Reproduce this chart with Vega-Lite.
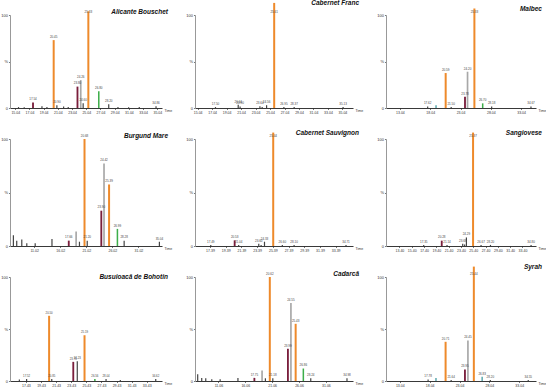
{
  "$schema": "https://vega.github.io/schema/vega-lite/v6.json",
  "padding": 0,
  "background": "white",
  "bounds": "flush",
  "columns": 3,
  "spacing": {"row": 31, "column": 33},
  "config": {
    "view": {"stroke": null},
    "font": "Liberation Sans",
    "axis": {"grid": false, "labelFont": "Liberation Sans", "labelColor": "#333", "tickColor": "#777", "tickSize": 1.5, "labelPadding": 1, "labelOverlap": false, "labelFlush": false},
    "axisX": {"labelFontSize": 3.5, "domainColor": "#222", "domainWidth": 0.9, "titleFont": "Liberation Sans", "titleFontSize": 3.5, "titleFontWeight": "normal", "titleAlign": "left", "titleBaseline": "middle", "titleY": 2, "titleColor": "#333"},
    "axisY": {"labelFontSize": 4, "domainColor": "#999", "title": null},
    "title": {"anchor": "end", "frame": "group", "fontSize": 6.5, "font": "Liberation Sans", "fontStyle": "italic", "fontWeight": "bold", "offset": -5, "dx": 6, "color": "#111"}
  },
  "datasets": {
    "peaks": [
      {"p": "AB", "t": 15.5, "h": 1, "c": "K", "lab": ""},
      {"p": "AB", "t": 16.3, "h": 0.8, "c": "K", "lab": ""},
      {"p": "AB", "t": 17.54, "h": 6, "c": "M", "lab": "17.54"},
      {"p": "AB", "t": 18.8, "h": 2, "c": "K", "lab": ""},
      {"p": "AB", "t": 19.5, "h": 1, "c": "K", "lab": ""},
      {"p": "AB", "t": 20.45, "h": 73, "c": "O", "lab": "20.45"},
      {"p": "AB", "t": 20.9, "h": 3, "c": "K", "lab": "20.90"},
      {"p": "AB", "t": 21.85, "h": 1.5, "c": "K", "lab": ""},
      {"p": "AB", "t": 22.5, "h": 1, "c": "K", "lab": ""},
      {"p": "AB", "t": 23.8, "h": 23, "c": "M", "lab": "23.80"},
      {"p": "AB", "t": 24.26, "h": 30, "c": "G", "lab": "24.26"},
      {"p": "AB", "t": 24.6, "h": 5, "c": "K", "lab": "24.60"},
      {"p": "AB", "t": 25.33, "h": 104, "c": "O", "lab": "25.33"},
      {"p": "AB", "t": 26.8, "h": 18, "c": "N", "lab": "26.80"},
      {"p": "AB", "t": 28.2, "h": 4, "c": "K", "lab": "28.20"},
      {"p": "AB", "t": 29.5, "h": 1, "c": "K", "lab": ""},
      {"p": "AB", "t": 31.0, "h": 0.8, "c": "K", "lab": ""},
      {"p": "AB", "t": 32.5, "h": 1, "c": "K", "lab": ""},
      {"p": "AB", "t": 34.86, "h": 2, "c": "K", "lab": "34.86"},

      {"p": "CF", "t": 17.5, "h": 1, "c": "K", "lab": "17.50"},
      {"p": "CF", "t": 20.64, "h": 3.5, "c": "K", "lab": "20.64"},
      {"p": "CF", "t": 20.9, "h": 1.5, "c": "K", "lab": "20.90"},
      {"p": "CF", "t": 23.64, "h": 2, "c": "K", "lab": "23.64"},
      {"p": "CF", "t": 23.95, "h": 1, "c": "K", "lab": ""},
      {"p": "CF", "t": 24.56, "h": 3, "c": "K", "lab": "24.56"},
      {"p": "CF", "t": 25.61, "h": 113, "c": "O", "lab": "25.61"},
      {"p": "CF", "t": 26.95, "h": 1, "c": "K", "lab": "26.95"},
      {"p": "CF", "t": 28.37, "h": 1, "c": "K", "lab": "28.37"},
      {"p": "CF", "t": 35.13, "h": 1, "c": "K", "lab": "35.13"},

      {"p": "M", "t": 17.62, "h": 1.5, "c": "K", "lab": "17.62"},
      {"p": "M", "t": 19.0, "h": 3, "c": "T", "lab": ""},
      {"p": "M", "t": 20.59, "h": 37.6, "c": "O", "lab": "20.59"},
      {"p": "M", "t": 21.5, "h": 1, "c": "K", "lab": "21.50"},
      {"p": "M", "t": 23.78, "h": 12, "c": "M", "lab": "23.78"},
      {"p": "M", "t": 24.2, "h": 39, "c": "G", "lab": "24.20"},
      {"p": "M", "t": 25.33, "h": 107, "c": "O", "lab": "25.33"},
      {"p": "M", "t": 26.7, "h": 5, "c": "N", "lab": "26.70"},
      {"p": "M", "t": 28.18, "h": 1.5, "c": "K", "lab": "28.18"},
      {"p": "M", "t": 34.67, "h": 1.5, "c": "K", "lab": "34.67"},

      {"p": "BM", "t": 7.04, "h": 10, "c": "K", "lab": ""},
      {"p": "BM", "t": 7.68, "h": 5, "c": "K", "lab": ""},
      {"p": "BM", "t": 8.65, "h": 6, "c": "K", "lab": ""},
      {"p": "BM", "t": 9.61, "h": 2.5, "c": "K", "lab": ""},
      {"p": "BM", "t": 11.22, "h": 2.5, "c": "K", "lab": ""},
      {"p": "BM", "t": 14.44, "h": 6.6, "c": "K", "lab": ""},
      {"p": "BM", "t": 17.66, "h": 5, "c": "M", "lab": "17.66"},
      {"p": "BM", "t": 19.07, "h": 13.5, "c": "G", "lab": ""},
      {"p": "BM", "t": 19.71, "h": 4, "c": "K", "lab": ""},
      {"p": "BM", "t": 20.68, "h": 100, "c": "O", "lab": "20.68"},
      {"p": "BM", "t": 21.2, "h": 5, "c": "K", "lab": "21.20"},
      {"p": "BM", "t": 23.9, "h": 33, "c": "M", "lab": "23.90"},
      {"p": "BM", "t": 24.42, "h": 77, "c": "G", "lab": "24.42"},
      {"p": "BM", "t": 25.39, "h": 57.5, "c": "O", "lab": "25.39"},
      {"p": "BM", "t": 26.99, "h": 16, "c": "N", "lab": "26.99"},
      {"p": "BM", "t": 28.28, "h": 5, "c": "K", "lab": "28.28"},
      {"p": "BM", "t": 35.04, "h": 4, "c": "K", "lab": "35.04"},

      {"p": "CS", "t": 17.49, "h": 1, "c": "K", "lab": "17.49"},
      {"p": "CS", "t": 20.53, "h": 5.3, "c": "M", "lab": "20.53"},
      {"p": "CS", "t": 21.04, "h": 1, "c": "K", "lab": "21.04"},
      {"p": "CS", "t": 23.6, "h": 2, "c": "K", "lab": "23.60"},
      {"p": "CS", "t": 23.9, "h": 1, "c": "K", "lab": ""},
      {"p": "CS", "t": 24.33, "h": 4, "c": "K", "lab": "24.33"},
      {"p": "CS", "t": 25.44, "h": 106, "c": "O", "lab": "25.44"},
      {"p": "CS", "t": 26.6, "h": 1, "c": "K", "lab": "26.60"},
      {"p": "CS", "t": 28.1, "h": 1, "c": "K", "lab": "28.10"},
      {"p": "CS", "t": 34.71, "h": 1, "c": "K", "lab": "34.71"},

      {"p": "S", "t": 17.35, "h": 1, "c": "K", "lab": "17.35"},
      {"p": "S", "t": 20.28, "h": 5, "c": "M", "lab": "20.28"},
      {"p": "S", "t": 21.14, "h": 1, "c": "K", "lab": "21.14"},
      {"p": "S", "t": 23.69, "h": 2, "c": "K", "lab": "23.69"},
      {"p": "S", "t": 24.0, "h": 1.5, "c": "K", "lab": ""},
      {"p": "S", "t": 24.29, "h": 8, "c": "K", "lab": "24.29"},
      {"p": "S", "t": 25.37, "h": 106, "c": "O", "lab": "25.37"},
      {"p": "S", "t": 26.67, "h": 1, "c": "K", "lab": "26.67"},
      {"p": "S", "t": 28.2, "h": 1, "c": "K", "lab": "28.20"},
      {"p": "S", "t": 34.8, "h": 1, "c": "K", "lab": "34.80"},

      {"p": "BB", "t": 16.56, "h": 1.5, "c": "K", "lab": ""},
      {"p": "BB", "t": 17.52, "h": 2, "c": "K", "lab": "17.52"},
      {"p": "BB", "t": 20.5, "h": 62.7, "c": "O", "lab": "20.50"},
      {"p": "BB", "t": 20.85, "h": 2, "c": "K", "lab": "20.85"},
      {"p": "BB", "t": 23.7, "h": 18.4, "c": "M", "lab": "23.70"},
      {"p": "BB", "t": 24.23, "h": 19, "c": "K", "lab": "24.23"},
      {"p": "BB", "t": 25.19, "h": 44, "c": "O", "lab": "25.19"},
      {"p": "BB", "t": 26.56, "h": 2, "c": "N", "lab": "26.56"},
      {"p": "BB", "t": 28.04, "h": 2, "c": "K", "lab": "28.04"},
      {"p": "BB", "t": 29.93, "h": 1, "c": "K", "lab": ""},
      {"p": "BB", "t": 34.62, "h": 2, "c": "K", "lab": "34.62"},

      {"p": "C", "t": 7.2, "h": 6.5, "c": "K", "lab": ""},
      {"p": "C", "t": 7.95, "h": 3, "c": "K", "lab": ""},
      {"p": "C", "t": 8.7, "h": 2.6, "c": "K", "lab": ""},
      {"p": "C", "t": 9.82, "h": 1.6, "c": "K", "lab": ""},
      {"p": "C", "t": 11.38, "h": 1.6, "c": "K", "lab": ""},
      {"p": "C", "t": 14.69, "h": 3, "c": "K", "lab": ""},
      {"p": "C", "t": 17.75, "h": 3, "c": "M", "lab": "17.75"},
      {"p": "C", "t": 19.18, "h": 10, "c": "G", "lab": ""},
      {"p": "C", "t": 19.8, "h": 2.6, "c": "K", "lab": ""},
      {"p": "C", "t": 20.62, "h": 100, "c": "O", "lab": "20.62"},
      {"p": "C", "t": 21.18, "h": 2.6, "c": "K", "lab": "21.18"},
      {"p": "C", "t": 23.99, "h": 31, "c": "M", "lab": "23.99"},
      {"p": "C", "t": 24.55, "h": 75, "c": "G", "lab": "24.55"},
      {"p": "C", "t": 25.43, "h": 55, "c": "O", "lab": "25.43"},
      {"p": "C", "t": 26.86, "h": 12, "c": "N", "lab": "26.86"},
      {"p": "C", "t": 28.24, "h": 2.6, "c": "K", "lab": "28.24"},
      {"p": "C", "t": 34.98, "h": 2.6, "c": "K", "lab": "34.98"},

      {"p": "SY", "t": 17.78, "h": 1.5, "c": "K", "lab": "17.78"},
      {"p": "SY", "t": 19.1, "h": 3, "c": "T", "lab": ""},
      {"p": "SY", "t": 20.71, "h": 37.7, "c": "O", "lab": "20.71"},
      {"p": "SY", "t": 21.64, "h": 1, "c": "K", "lab": "21.64"},
      {"p": "SY", "t": 23.95, "h": 11, "c": "M", "lab": "23.95"},
      {"p": "SY", "t": 24.45, "h": 39, "c": "G", "lab": "24.45"},
      {"p": "SY", "t": 25.44, "h": 110, "c": "O", "lab": "25.44"},
      {"p": "SY", "t": 26.83, "h": 4, "c": "T", "lab": "26.83"},
      {"p": "SY", "t": 28.2, "h": 1, "c": "K", "lab": "28.20"},
      {"p": "SY", "t": 34.55, "h": 1, "c": "K", "lab": "34.55"}
    ]
  },
  "concat": [
    {
      "width": 152, "height": 93,
      "title": {"text": "Alicante Bouschet"},
      "data": {"name": "peaks"},
      "transform": [{"filter": "datum.p === 'AB'"}],
      "encoding": {"x": {"field": "t", "type": "quantitative", "scale": {"domain": [14.3, 35.7], "nice": false, "zero": false}, "axis": {"values": [15.04, 17.04, 19.04, 21.04, 23.04, 25.04, 27.04, 29.04, 31.04, 33.04, 35.04], "format": ".2f", "title": "Time", "titleX": 154}}},
      "layer": [
        {"mark": "rule", "encoding": {
          "y": {"field": "h", "type": "quantitative", "scale": {"domain": [0, 100], "nice": false}, "axis": {"values": [0, 50, 100], "labelExpr": "datum.value == 50 ? '%' : datum.label"}},
          "y2": {"datum": 0},
          "color": {"field": "c", "type": "nominal", "scale": {"domain": ["O", "M", "G", "N", "T", "K"], "range": ["#EE8A2B", "#7A1E3C", "#A8A8A8", "#3DAE49", "#4A9FA5", "#444444"]}, "legend": null},
          "strokeWidth": {"field": "c", "type": "nominal", "scale": {"domain": ["O", "M", "G", "N", "T", "K"], "range": [2, 1.2, 1.2, 1.2, 1, 0.8]}, "legend": null}
        }},
        {"mark": {"type": "text", "fontSize": 3, "dy": -1.5, "baseline": "bottom", "color": "#444"}, "encoding": {
          "y": {"field": "h", "type": "quantitative", "scale": {"domain": [0, 100], "clamp": true, "nice": false}, "axis": null},
          "text": {"field": "lab"}
        }}
      ],
      "resolve": {"scale": {"y": "independent"}}
    },
    {
      "width": 158, "height": 93,
      "title": {"text": "Cabernet Franc"},
      "data": {"name": "peaks"},
      "transform": [{"filter": "datum.p === 'CF'"}],
      "encoding": {"x": {"field": "t", "type": "quantitative", "scale": {"domain": [14.67, 36.5], "nice": false, "zero": false}, "axis": {"values": [15.04, 17.04, 19.04, 21.04, 23.04, 25.04, 27.04, 29.04, 31.04, 33.04, 35.04], "format": ".2f", "title": "Time", "titleX": 160}}},
      "layer": [
        {"mark": "rule", "encoding": {
          "y": {"field": "h", "type": "quantitative", "scale": {"domain": [0, 100], "nice": false}, "axis": {"values": [0, 50, 100], "labelExpr": "datum.value == 50 ? '%' : datum.label"}},
          "y2": {"datum": 0},
          "color": {"field": "c", "type": "nominal", "scale": {"domain": ["O", "M", "G", "N", "T", "K"], "range": ["#EE8A2B", "#7A1E3C", "#A8A8A8", "#3DAE49", "#4A9FA5", "#444444"]}, "legend": null},
          "strokeWidth": {"field": "c", "type": "nominal", "scale": {"domain": ["O", "M", "G", "N", "T", "K"], "range": [2, 1.2, 1.2, 1.2, 1, 0.8]}, "legend": null}
        }},
        {"mark": {"type": "text", "fontSize": 3, "dy": -1.5, "baseline": "bottom", "color": "#444"}, "encoding": {
          "y": {"field": "h", "type": "quantitative", "scale": {"domain": [0, 100], "clamp": true, "nice": false}, "axis": null},
          "text": {"field": "lab"}
        }}
      ],
      "resolve": {"scale": {"y": "independent"}}
    },
    {
      "width": 150, "height": 93,
      "title": {"text": "Malbec"},
      "data": {"name": "peaks"},
      "transform": [{"filter": "datum.p === 'M'"}],
      "encoding": {"x": {"field": "t", "type": "quantitative", "scale": {"domain": [10.74, 35.5], "nice": false, "zero": false}, "axis": {"values": [13.04, 18.04, 23.04, 28.04, 33.04], "format": ".2f", "title": "Time", "titleX": 152}}},
      "layer": [
        {"mark": "rule", "encoding": {
          "y": {"field": "h", "type": "quantitative", "scale": {"domain": [0, 100], "nice": false}, "axis": {"values": [0, 50, 100], "labelExpr": "datum.value == 50 ? '%' : datum.label"}},
          "y2": {"datum": 0},
          "color": {"field": "c", "type": "nominal", "scale": {"domain": ["O", "M", "G", "N", "T", "K"], "range": ["#EE8A2B", "#7A1E3C", "#A8A8A8", "#3DAE49", "#4A9FA5", "#444444"]}, "legend": null},
          "strokeWidth": {"field": "c", "type": "nominal", "scale": {"domain": ["O", "M", "G", "N", "T", "K"], "range": [2, 1.2, 1.2, 1.2, 1, 0.8]}, "legend": null}
        }},
        {"mark": {"type": "text", "fontSize": 3, "dy": -1.5, "baseline": "bottom", "color": "#444"}, "encoding": {
          "y": {"field": "h", "type": "quantitative", "scale": {"domain": [0, 100], "clamp": true, "nice": false}, "axis": null},
          "text": {"field": "lab"}
        }}
      ],
      "resolve": {"scale": {"y": "independent"}}
    },
    {
      "width": 152, "height": 107,
      "title": {"text": "Burgund Mare"},
      "data": {"name": "peaks"},
      "transform": [{"filter": "datum.p === 'BM'"}],
      "encoding": {"x": {"field": "t", "type": "quantitative", "scale": {"domain": [6.39, 35.54], "nice": false, "zero": false}, "axis": {"values": [11.02, 16.02, 21.02, 26.02, 31.02], "format": ".2f", "title": "Time", "titleX": 154}}},
      "layer": [
        {"mark": "rule", "encoding": {
          "y": {"field": "h", "type": "quantitative", "scale": {"domain": [0, 100], "nice": false}, "axis": {"values": [0, 50, 100], "labelExpr": "datum.value == 50 ? '%' : datum.label"}},
          "y2": {"datum": 0},
          "color": {"field": "c", "type": "nominal", "scale": {"domain": ["O", "M", "G", "N", "T", "K"], "range": ["#EE8A2B", "#7A1E3C", "#A8A8A8", "#3DAE49", "#4A9FA5", "#444444"]}, "legend": null},
          "strokeWidth": {"field": "c", "type": "nominal", "scale": {"domain": ["O", "M", "G", "N", "T", "K"], "range": [2, 1.2, 1.2, 1.2, 1, 0.8]}, "legend": null}
        }},
        {"mark": {"type": "text", "fontSize": 3, "dy": -1.5, "baseline": "bottom", "color": "#444"}, "encoding": {
          "y": {"field": "h", "type": "quantitative", "scale": {"domain": [0, 100], "clamp": true, "nice": false}, "axis": null},
          "text": {"field": "lab"}
        }}
      ],
      "resolve": {"scale": {"y": "independent"}}
    },
    {
      "width": 158, "height": 107,
      "title": {"text": "Cabernet Sauvignon"},
      "data": {"name": "peaks"},
      "transform": [{"filter": "datum.p === 'CS'"}],
      "encoding": {"x": {"field": "t", "type": "quantitative", "scale": {"domain": [15.48, 35.6], "nice": false, "zero": false}, "axis": {"values": [17.39, 19.39, 21.39, 23.39, 25.39, 27.39, 29.39, 31.39, 33.39], "format": ".2f", "title": "Time", "titleX": 160}}},
      "layer": [
        {"mark": "rule", "encoding": {
          "y": {"field": "h", "type": "quantitative", "scale": {"domain": [0, 100], "nice": false}, "axis": {"values": [0, 50, 100], "labelExpr": "datum.value == 50 ? '%' : datum.label"}},
          "y2": {"datum": 0},
          "color": {"field": "c", "type": "nominal", "scale": {"domain": ["O", "M", "G", "N", "T", "K"], "range": ["#EE8A2B", "#7A1E3C", "#A8A8A8", "#3DAE49", "#4A9FA5", "#444444"]}, "legend": null},
          "strokeWidth": {"field": "c", "type": "nominal", "scale": {"domain": ["O", "M", "G", "N", "T", "K"], "range": [2, 1.2, 1.2, 1.2, 1, 0.8]}, "legend": null}
        }},
        {"mark": {"type": "text", "fontSize": 3, "dy": -1.5, "baseline": "bottom", "color": "#444"}, "encoding": {
          "y": {"field": "h", "type": "quantitative", "scale": {"domain": [0, 100], "clamp": true, "nice": false}, "axis": null},
          "text": {"field": "lab"}
        }}
      ],
      "resolve": {"scale": {"y": "independent"}}
    },
    {
      "width": 150, "height": 107,
      "title": {"text": "Sangiovese"},
      "data": {"name": "peaks"},
      "transform": [{"filter": "datum.p === 'S'"}],
      "encoding": {"x": {"field": "t", "type": "quantitative", "scale": {"domain": [11.22, 35.6], "nice": false, "zero": false}, "axis": {"values": [13.4, 15.4, 17.4, 19.4, 21.4, 23.4, 25.4, 27.4, 29.4, 31.4, 33.4], "format": ".2f", "title": "Time", "titleX": 152}}},
      "layer": [
        {"mark": "rule", "encoding": {
          "y": {"field": "h", "type": "quantitative", "scale": {"domain": [0, 100], "nice": false}, "axis": {"values": [0, 50, 100], "labelExpr": "datum.value == 50 ? '%' : datum.label"}},
          "y2": {"datum": 0},
          "color": {"field": "c", "type": "nominal", "scale": {"domain": ["O", "M", "G", "N", "T", "K"], "range": ["#EE8A2B", "#7A1E3C", "#A8A8A8", "#3DAE49", "#4A9FA5", "#444444"]}, "legend": null},
          "strokeWidth": {"field": "c", "type": "nominal", "scale": {"domain": ["O", "M", "G", "N", "T", "K"], "range": [2, 1.2, 1.2, 1.2, 1, 0.8]}, "legend": null}
        }},
        {"mark": {"type": "text", "fontSize": 3, "dy": -1.5, "baseline": "bottom", "color": "#444"}, "encoding": {
          "y": {"field": "h", "type": "quantitative", "scale": {"domain": [0, 100], "clamp": true, "nice": false}, "axis": null},
          "text": {"field": "lab"}
        }}
      ],
      "resolve": {"scale": {"y": "independent"}}
    },
    {
      "width": 152, "height": 104,
      "title": {"text": "Busuioacă de Bohotin"},
      "data": {"name": "peaks"},
      "transform": [{"filter": "datum.p === 'BB'"}],
      "encoding": {"x": {"field": "t", "type": "quantitative", "scale": {"domain": [15.32, 35.45], "nice": false, "zero": false}, "axis": {"values": [17.43, 19.43, 21.43, 23.43, 25.43, 27.43, 29.43, 31.43, 33.43], "format": ".2f", "title": "Time", "titleX": 154}}},
      "layer": [
        {"mark": "rule", "encoding": {
          "y": {"field": "h", "type": "quantitative", "scale": {"domain": [0, 100], "nice": false}, "axis": {"values": [0, 50, 100], "labelExpr": "datum.value == 50 ? '%' : datum.label"}},
          "y2": {"datum": 0},
          "color": {"field": "c", "type": "nominal", "scale": {"domain": ["O", "M", "G", "N", "T", "K"], "range": ["#EE8A2B", "#7A1E3C", "#A8A8A8", "#3DAE49", "#4A9FA5", "#444444"]}, "legend": null},
          "strokeWidth": {"field": "c", "type": "nominal", "scale": {"domain": ["O", "M", "G", "N", "T", "K"], "range": [2, 1.2, 1.2, 1.2, 1, 0.8]}, "legend": null}
        }},
        {"mark": {"type": "text", "fontSize": 2.8, "dy": -1.5, "baseline": "bottom", "color": "#444"}, "encoding": {
          "y": {"field": "h", "type": "quantitative", "scale": {"domain": [0, 100], "clamp": true, "nice": false}, "axis": null},
          "text": {"field": "lab"}
        }}
      ],
      "resolve": {"scale": {"y": "independent"}}
    },
    {
      "width": 158, "height": 104,
      "title": {"text": "Cadarcă"},
      "data": {"name": "peaks"},
      "transform": [{"filter": "datum.p === 'C'"}],
      "encoding": {"x": {"field": "t", "type": "quantitative", "scale": {"domain": [6.7, 36.1], "nice": false, "zero": false}, "axis": {"values": [11.06, 16.06, 21.06, 26.06, 31.06], "format": ".2f", "title": "Time", "titleX": 160}}},
      "layer": [
        {"mark": "rule", "encoding": {
          "y": {"field": "h", "type": "quantitative", "scale": {"domain": [0, 100], "nice": false}, "axis": {"values": [0, 50, 100], "labelExpr": "datum.value == 50 ? '%' : datum.label"}},
          "y2": {"datum": 0},
          "color": {"field": "c", "type": "nominal", "scale": {"domain": ["O", "M", "G", "N", "T", "K"], "range": ["#EE8A2B", "#7A1E3C", "#A8A8A8", "#3DAE49", "#4A9FA5", "#444444"]}, "legend": null},
          "strokeWidth": {"field": "c", "type": "nominal", "scale": {"domain": ["O", "M", "G", "N", "T", "K"], "range": [2, 1.2, 1.2, 1.2, 1, 0.8]}, "legend": null}
        }},
        {"mark": {"type": "text", "fontSize": 3, "dy": -1.5, "baseline": "bottom", "color": "#444"}, "encoding": {
          "y": {"field": "h", "type": "quantitative", "scale": {"domain": [0, 100], "clamp": true, "nice": false}, "axis": null},
          "text": {"field": "lab"}
        }}
      ],
      "resolve": {"scale": {"y": "independent"}}
    },
    {
      "width": 150, "height": 104,
      "title": {"text": "Syrah"},
      "data": {"name": "peaks"},
      "transform": [{"filter": "datum.p === 'SY'"}],
      "encoding": {"x": {"field": "t", "type": "quantitative", "scale": {"domain": [10.73, 35.85], "nice": false, "zero": false}, "axis": {"values": [13.04, 18.04, 23.04, 28.04, 33.04], "format": ".2f", "title": "Time", "titleX": 152}}},
      "layer": [
        {"mark": "rule", "encoding": {
          "y": {"field": "h", "type": "quantitative", "scale": {"domain": [0, 100], "nice": false}, "axis": {"values": [0, 50, 100], "labelExpr": "datum.value == 50 ? '%' : datum.label"}},
          "y2": {"datum": 0},
          "color": {"field": "c", "type": "nominal", "scale": {"domain": ["O", "M", "G", "N", "T", "K"], "range": ["#EE8A2B", "#7A1E3C", "#A8A8A8", "#3DAE49", "#4A9FA5", "#444444"]}, "legend": null},
          "strokeWidth": {"field": "c", "type": "nominal", "scale": {"domain": ["O", "M", "G", "N", "T", "K"], "range": [2, 1.2, 1.2, 1.2, 1, 0.8]}, "legend": null}
        }},
        {"mark": {"type": "text", "fontSize": 3, "dy": -1.5, "baseline": "bottom", "color": "#444"}, "encoding": {
          "y": {"field": "h", "type": "quantitative", "scale": {"domain": [0, 100], "clamp": true, "nice": false}, "axis": null},
          "text": {"field": "lab"}
        }}
      ],
      "resolve": {"scale": {"y": "independent"}}
    }
  ]
}
